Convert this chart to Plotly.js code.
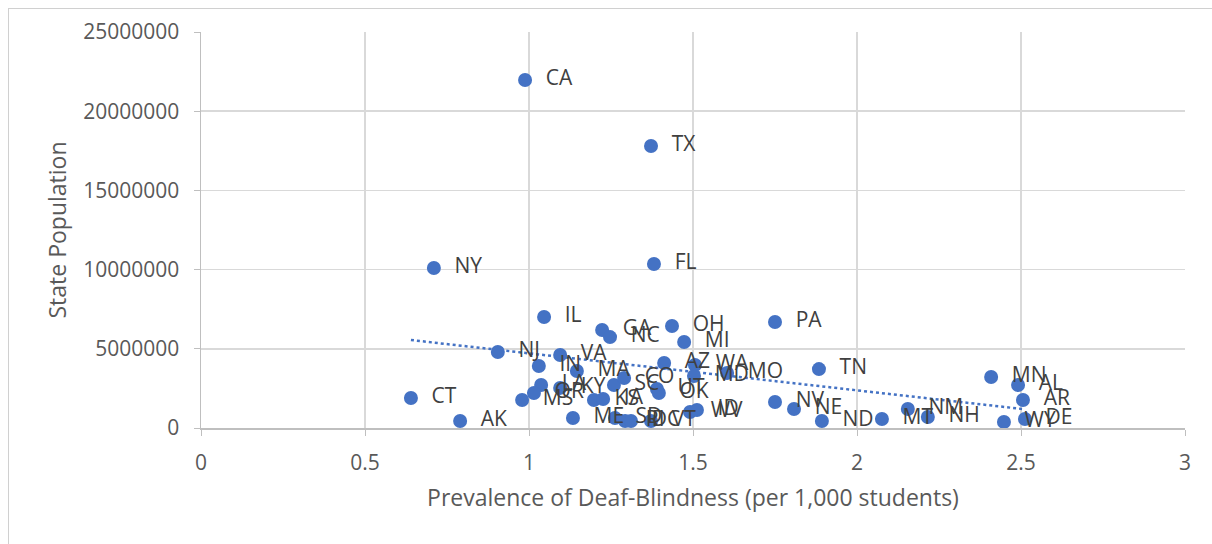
<!DOCTYPE html>
<html>
<head>
<meta charset="utf-8">
<script src="https://cdn.plot.ly/plotly-3.0.1.min.js"></script>
<style>
html,body{margin:0;padding:0;background:#fff;overflow:hidden;}
#chart{width:1212px;height:544px;}
#frame{position:absolute;left:8px;top:8px;width:1400px;height:700px;border-left:1px solid #d0d0d0;border-top:1px solid #d0d0d0;pointer-events:none;}
</style>
</head>
<body>
<div id="chart"></div>
<div id="frame"></div>
<script>
const states = ["CA","TX","FL","NY","IL","PA","OH","GA","NC","MI","NJ","VA","AZ","WA","IN","MA","MD","MO","TN","MN","AL","AR","WY","DE","NV","NE","ND","MT","NM","NH","LA","KY","OR","MS","KS","IA","ME","SD","RI","DC","VT","SC","CO","UT","OK","WV","ID","CT","AK"];
const prevalence = [0.988,1.372,1.381,0.710,1.046,1.750,1.436,1.223,1.247,1.473,0.905,1.095,1.412,1.506,1.030,1.146,1.503,1.604,1.884,2.409,2.491,2.506,2.448,2.512,1.750,1.808,1.893,2.076,2.155,2.216,1.037,1.095,1.015,0.979,1.198,1.226,1.134,1.262,1.293,1.311,1.372,1.259,1.290,1.390,1.396,1.491,1.512,0.640,0.790];
const population = [21970000,17800000,10350000,10100000,7010000,6690000,6440000,6190000,5740000,5430000,4800000,4610000,4100000,3980000,3910000,3600000,3280000,3470000,3720000,3220000,2710000,1770000,380000,570000,1640000,1200000,440000,570000,1200000,690000,2710000,2530000,2210000,1770000,1770000,1830000,630000,630000,440000,440000,440000,2710000,3160000,2460000,2210000,1010000,1140000,1890000,440000];

// linear least-squares trendline computed from the data
const n = prevalence.length;
let sx=0, sy=0, sxx=0, sxy=0;
for (let i=0;i<n;i++){sx+=prevalence[i];sy+=population[i];sxx+=prevalence[i]*prevalence[i];sxy+=prevalence[i]*population[i];}
const slope = (n*sxy - sx*sy)/(n*sxx - sx*sx);
const intercept = (sy - slope*sx)/n;
const xmin = Math.min(...prevalence), xmax = Math.max(...prevalence);
const trendX = [xmin, xmax];
const trendY = trendX.map(v => intercept + slope*v);

const textColor = "#595959";
const fontFam = "'Open Sans', 'Noto Sans', sans-serif";
// pad labels so they sit a little further right of each marker
const labels = states.map(s => "\u00a0\u00a0" + s);

const traces = [
  {
    x: trendX, y: trendY, type: "scatter", mode: "lines",
    line: {color: "#4472C4", width: 2.5, dash: "dot"},
    hoverinfo: "skip", showlegend: false
  },
  {
    x: prevalence, y: population, text: labels, type: "scatter", mode: "markers+text",
    textposition: "middle right",
    textfont: {family: fontFam, size: 21, color: "#404040"},
    marker: {color: "#4472C4", size: 14},
    showlegend: false, cliponaxis: false
  }
];

const layout = {
  width: 1212, height: 544,
  margin: {l: 201, r: 27, t: 32, b: 116},
  paper_bgcolor: "#fff", plot_bgcolor: "#fff",
  font: {family: fontFam, size: 21, color: textColor},
  showlegend: false,
  xaxis: {
    range: [0, 3], dtick: 0.5, tick0: 0,
    showgrid: true, gridcolor: "#d9d9d9", gridwidth: 1.5,
    zeroline: false,
    showline: true, linecolor: "#bfbfbf", linewidth: 1.5,
    ticks: "outside", ticklen: 6, tickcolor: "#bfbfbf",
    ticklabelstandoff: 9,
    tickfont: {family: fontFam, size: 21, color: textColor},
    title: {text: "Prevalence of Deaf-Blindness (per 1,000 students)", font: {family: fontFam, size: 23, color: textColor}, standoff: 15}
  },
  yaxis: {
    range: [0, 25000000], dtick: 5000000, tick0: 0,
    tickformat: "d",
    showgrid: true, gridcolor: "#d9d9d9", gridwidth: 1.5,
    zeroline: false,
    showline: true, linecolor: "#bfbfbf", linewidth: 1.5,
    ticks: "outside", ticklen: 6, tickcolor: "#bfbfbf",
    ticklabelstandoff: 10,
    tickfont: {family: fontFam, size: 21, color: textColor},
    title: {text: "State Population", font: {family: fontFam, size: 23, color: textColor}, standoff: 10}
  }
};

Plotly.newPlot("chart", traces, layout, {displayModeBar: false, staticPlot: true});
</script>
</body>
</html>
